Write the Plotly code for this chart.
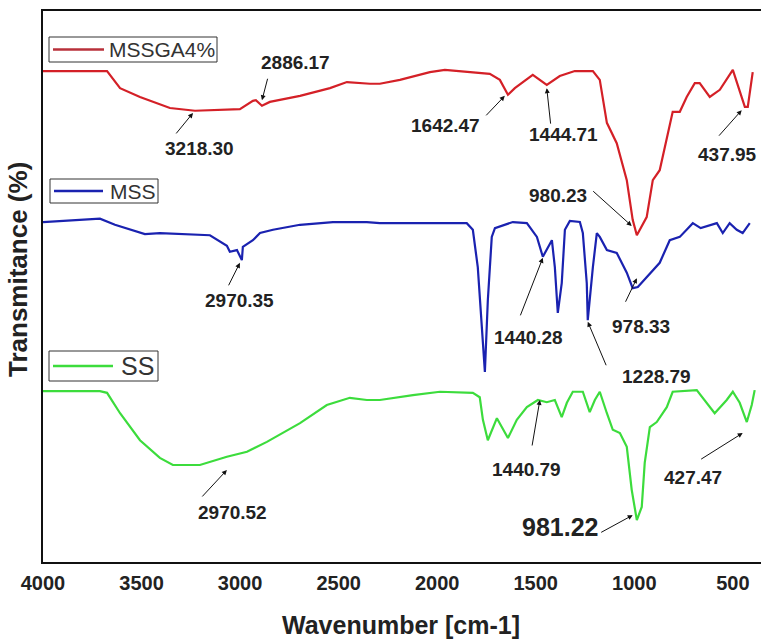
import plotly.graph_objects as go

# ---------------- data ----------------
wn_mssga = [4000, 3711, 3675, 3609, 3508, 3356, 3229, 3001, 2935, 2920, 2889, 2849, 2696, 2544,
            2458, 2341, 2291, 2189, 2037, 1961, 1885, 1733, 1682, 1641, 1606, 1515, 1444, 1378,
            1302, 1210, 1175, 1139, 1089, 1038, 1008, 987, 937, 906, 871, 835, 805, 769, 734,
            693, 668, 617, 566, 500, 439, 424, 399]
t_mssga = [89.1, 89.1, 89.1, 86.0, 84.4, 82.4, 81.9, 82.2, 83.7, 83.8, 82.8, 83.5, 84.6, 86.0,
           87.1, 86.8, 86.8, 87.5, 88.9, 89.3, 89.1, 88.6, 87.5, 84.8, 86.0, 88.4, 86.6, 88.2,
           89.1, 89.1, 87.5, 79.7, 76.0, 69.3, 62.1, 59.3, 62.6, 69.3, 71.1, 76.6, 81.7, 81.7, 84.4,
           86.9, 86.9, 84.4, 85.7, 89.3, 82.6, 82.6, 88.9]

wn_mss = [4000, 3711, 3635, 3483, 3407, 3305, 3153, 3067, 3052, 3016, 2991, 2986, 2935, 2899,
          2833, 2696, 2529, 2357, 2291, 1850, 1819, 1794, 1773, 1758, 1743, 1723, 1707, 1616,
          1545, 1494, 1464, 1418, 1403, 1388, 1368, 1352, 1327, 1276, 1261, 1241, 1236, 1226,
          1210, 1190, 1175, 1139, 1089, 1038, 1008, 982, 937, 871, 820, 769, 703, 663, 581,
          551, 516, 480, 450, 414]
t_mss = [61.7, 62.3, 61.2, 59.5, 59.7, 59.5, 59.3, 57.4, 56.3, 56.6, 54.8, 57.2, 58.4, 59.7,
         60.3, 61.2, 61.7, 61.7, 61.5, 61.5, 60.3, 53.5, 41.6, 34.5, 47.5, 59.0, 60.6, 61.7,
         61.5, 59.0, 55.4, 58.4, 53.5, 45.2, 50.6, 60.3, 61.9, 61.7, 59.7, 50.6, 43.9, 48.1,
         53.5, 59.7, 59.0, 56.6, 56.1, 52.5, 49.7, 49.9, 51.7, 54.3, 58.4, 59.0, 61.5, 60.6, 61.5,
         59.7, 61.5, 60.3, 59.7, 61.5]

wn_ss = [4000, 3711, 3675, 3609, 3508, 3407, 3341, 3204, 3067, 2965, 2864, 2696, 2560, 2443,
         2357, 2291, 2123, 1986, 1819, 1784, 1768, 1743, 1697, 1641, 1596, 1545, 1489, 1444,
         1403, 1368, 1342, 1312, 1261, 1226, 1200, 1175, 1139, 1109, 1073, 1038, 1013, 987,
         962, 947, 921, 886, 835, 805, 683, 632, 592, 531, 500, 465, 429, 404, 389]
t_ss = [31.0, 31.0, 30.7, 27.0, 22.1, 18.9, 17.6, 17.6, 19.1, 20.0, 21.8, 25.2, 28.5, 29.8,
        29.4, 29.4, 30.3, 30.9, 30.7, 29.9, 25.8, 22.1, 26.1, 22.5, 25.8, 28.1, 29.4, 29.0,
        29.4, 26.3, 28.9, 30.9, 30.9, 27.2, 29.4, 30.9, 27.0, 24.0, 23.4, 20.9, 13.1, 7.6,
        10.0, 18.0, 24.5, 25.4, 28.1, 30.9, 31.2, 28.9, 27.0, 29.4, 30.9, 28.9, 25.4, 28.5, 31.2]

series_names = ["MSSGA4%", "MSS", "SS"]

x_tick_vals = [4000, 3500, 3000, 2500, 2000, 1500, 1000, 500]
x_tick_text = ["4000", "3500", "3000", "2500", "2000", "1500", "1000", "500"]

# peak labels
peak_labels = ["2886.17", "3218.30", "1642.47", "1444.71", "437.95", "980.23",
               "2970.35", "1440.28", "1228.79", "978.33",
               "2970.52", "1440.79", "427.47", "981.22"]
# arrow head positions (wavenumber, transmittance)
head_wn = [2889, 3239, 1657, 1444, 455, 1013, 3001, 1464, 1236, 987, 3067, 1479, 450, 1008]
head_t = [83.8, 81.5, 84.6, 86.0, 82.0, 61.0, 54.3, 55.2, 43.6, 51.5, 16.7, 29.4, 23.4, 8.5]
# label text positions (wavenumber, transmittance)
text_wn = [2717, 3204, 1956, 1357, 526, 1388, 3001, 1535, 886, 967, 3041, 1545, 703, 1378]
text_t = [90.7, 75.1, 79.3, 77.5, 74.0, 66.6, 47.5, 40.8, 33.6, 42.8, 8.9, 16.7, 15.4, 6.4]

# ---------------- styling ----------------
FONT = "Arial, Liberation Sans, sans-serif"
colors = ["#d42027", "#1a22b0", "#3cdc3c"]
legend_line_colors = ["#b8303a", "#1a22b0", "#3cdc3c"]
arrow_tail_dx = [6, -18, -20, 4, -24, -40, -12, -23, 19, -12, -26, -8, -43, -33]
arrow_tail_dy = [-23, 22, 21, 37, 27, -36, 24, 59, 45, 25, 28, 47, 27, 18]
label_sizes = [19] * 13 + [25]

W, H = 761, 642
L, R, T, B = 43, 0, 11, 80
pw, ph = W - L - R, H - T - B


def px2paper(px, py):
    return (px - L) / pw, (H - B - py) / ph


fig = go.Figure()
data = [(wn_mssga, t_mssga), (wn_mss, t_mss), (wn_ss, t_ss)]
for (xs, ys), name, c in zip(data, series_names, colors):
    fig.add_trace(go.Scatter(x=xs, y=ys, mode="lines", name=name,
                             line=dict(color=c, width=2.2), showlegend=False))

annotations = []
shapes = []

# legend boxes (pixel boxes: left, top, right, bottom, line end, text x, font size)
legend_boxes = [(49, 37, 217, 62, 104, 107, 21),
                (50, 179, 158, 203, 103, 108, 21),
                (49, 351, 158, 381, 113, 119, 25)]
for (bl, bt, br, bb, le, tx_, fs), name, lc in zip(legend_boxes, series_names, legend_line_colors):
    x0, y0 = px2paper(bl, bb)
    x1, y1 = px2paper(br, bt)
    shapes.append(dict(type="rect", xref="paper", yref="paper", x0=x0, y0=y0, x1=x1, y1=y1,
                       line=dict(color="#333333", width=1), fillcolor="white", layer="above"))
    ym = (y0 + y1) / 2
    lx0, _ = px2paper(bl + 4, 0)
    lx1, _ = px2paper(le, 0)
    shapes.append(dict(type="line", xref="paper", yref="paper", x0=lx0, x1=lx1, y0=ym, y1=ym,
                       line=dict(color=lc, width=2.5), layer="above"))
    ttx, _ = px2paper(tx_, 0)
    annotations.append(dict(x=ttx, y=ym, xref="paper", yref="paper", text=name, showarrow=False,
                            xanchor="left", yanchor="middle",
                            font=dict(family=FONT, size=fs, color="#333333")))

for i, lab in enumerate(peak_labels):
    annotations.append(dict(x=head_wn[i], y=head_t[i], xref="x", yref="y", text="",
                            showarrow=True, arrowhead=2, arrowsize=1, arrowwidth=1,
                            arrowcolor="#111111", ax=arrow_tail_dx[i], ay=arrow_tail_dy[i],
                            standoff=0))
    annotations.append(dict(x=text_wn[i], y=text_t[i], xref="x", yref="y", text="<b>%s</b>" % lab,
                            showarrow=False, xanchor="center", yanchor="middle",
                            font=dict(family=FONT, size=label_sizes[i], color="#222222")))

tx, ty = px2paper(18, 270)
annotations.append(dict(x=tx, y=ty, xref="paper", yref="paper", text="<b>Transmitance (%)</b>",
                        textangle=-90, showarrow=False, xanchor="center", yanchor="middle",
                        font=dict(family=FONT, size=26, color="#222222")))
tx, ty = px2paper(401, 625)
annotations.append(dict(x=tx, y=ty, xref="paper", yref="paper", text="<b>Wavenumber [cm-1]</b>",
                        showarrow=False, xanchor="center", yanchor="middle",
                        font=dict(family=FONT, size=25, color="#222222")))

fig.update_layout(
    width=W, height=H,
    margin=dict(l=L, r=R, t=T, b=B, autoexpand=False),
    paper_bgcolor="white", plot_bgcolor="white",
    font=dict(family=FONT, color="#222222"),
    showlegend=False,
    annotations=annotations,
    shapes=shapes,
)
fig.update_xaxes(range=[4000, 357], tickvals=x_tick_vals,
                 ticktext=["<b>%s</b>" % t for t in x_tick_text],
                 showgrid=False, zeroline=False, showline=True, linewidth=2, linecolor="#111111",
                 mirror=True, ticks="", tickfont=dict(family=FONT, size=20, color="#222222"),
                 ticklabelstandoff=2, automargin=False)
fig.update_yaxes(range=[0, 100], showticklabels=False, showgrid=False, zeroline=False,
                 showline=True, linewidth=2, linecolor="#111111", ticks="", automargin=False)

fig.write_html("out.html", config={"displayModeBar": False},
               post_script="document.body.style.margin='0px';")
